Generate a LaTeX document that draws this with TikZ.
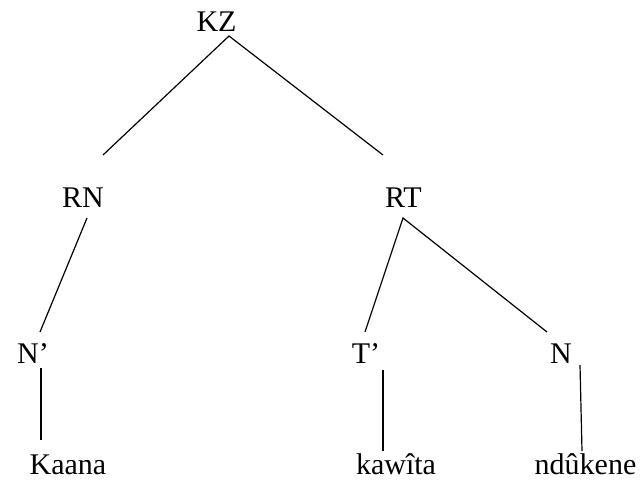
\documentclass[tikz,border=0pt]{standalone}
\usepackage{fontspec}
\setmainfont{Liberation Serif}
\usetikzlibrary{calc}

\begin{document}
\begin{tikzpicture}[x=1pt,y=-1pt,
    lbl/.style={anchor=base,inner sep=0pt,font=\fontsize{30}{36}\selectfont},
    branch/.style={line width=1.2pt}]
    \useasboundingbox (0,0) rectangle (642,480);

    % Labels
    \node[lbl] (kz)      at (216.5,31) {KZ};
    \node[lbl] (rn)      at (83,207)   {RN};
    \node[lbl] (rt)      at (403.5,207) {RT};
    \node[lbl] (np)      at (33,363)   {N’};
    \node[lbl] (tp)      at (366,363)  {T’};
    \node[lbl] (n)       at (561,363)  {N};
    \node[lbl] (kaana)   at (68,474)   {Kaana};
    \node[lbl] (kawita)  at (396,474)  {kawîta};
    \node[lbl] (ndukene) at (585.5,474) {ndûkene};

    % Branches
    \draw[branch] ($(rn.base)+(20,-52)$) -- ($(kz.base)+(12.5,5)$) -- ($(rt.base)+(-20.5,-52)$);
    \draw[branch] ($(rn.base)+(4,11)$) -- ($(np.base)+(7,-31)$);
    \draw[branch] ($(tp.base)+(-1,-31)$) -- ($(rt.base)+(-0.5,11)$) -- ($(n.base)+(-14,-31)$);

    % Words
    \draw[branch] ($(np.base)+(8,5)$) -- ($(kaana.base)+(-27,-34)$);
    \draw[branch] ($(tp.base)+(17,7)$) -- ($(kawita.base)+(-13,-23)$);
    \draw[branch] ($(n.base)+(19,2)$) -- ($(ndukene.base)+(-3.5,-23)$);

\end{tikzpicture}
\end{document}
